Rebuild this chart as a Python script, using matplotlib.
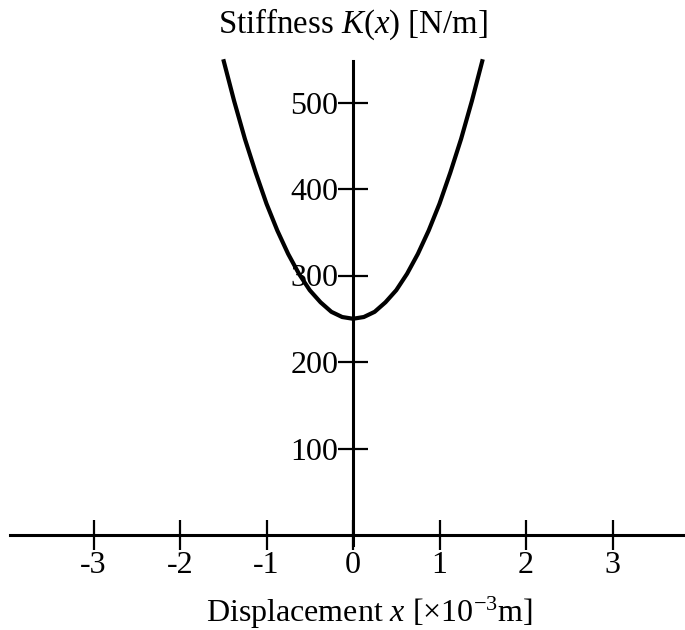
import numpy as np
import matplotlib
matplotlib.use('Agg')
import matplotlib.pyplot as plt

## values (x in 1e-3 m, K in N/m)
disp = [-1.5, -1.375, -1.25, -1.125, -1.0, -0.875, -0.75, -0.625, -0.5, -0.375, -0.25, -0.125,
        0.0, 0.125, 0.25, 0.375, 0.5, 0.625, 0.75, 0.875, 1.0, 1.125, 1.25, 1.375, 1.5]
stiff = [550, 502, 458, 419, 383, 352, 325, 302, 283, 269, 258, 252,
         250, 252, 258, 269, 283, 302, 325, 352, 383, 419, 458, 502, 550]
xticks = [-3, -2, -1, 0, 1, 2, 3]
yticks = [100, 200, 300, 400, 500]

plt.rcParams['font.family'] = 'Liberation Serif'
plt.rcParams['mathtext.fontset'] = 'custom'
plt.rcParams['mathtext.rm'] = 'Liberation Serif'
plt.rcParams['mathtext.it'] = 'Liberation Serif:italic'
plt.rcParams['axes.unicode_minus'] = False

fig = plt.figure(figsize=(6.85, 6.3), dpi=100)
ax = fig.add_axes([0, 0, 1, 1])
ax.patch.set_visible(False)

# pixel mapping: x=0 at px 353, 86.5 px per unit; y=0 at px 535 from top, 0.865 px per N/m
ax.set_xlim(-353 / 86.5, 332 / 86.5)
ax.set_ylim((535 - 630) / 0.865, 535 / 0.865)

ax.plot(disp, stiff, color='black', lw=3.0, solid_capstyle='butt', zorder=3)

for s in ['top', 'right']:
    ax.spines[s].set_visible(False)
ax.spines['left'].set_position(('data', 0))
ax.spines['bottom'].set_position(('data', 0))
ax.spines['left'].set_bounds(-12, 548)
ax.spines['bottom'].set_bounds(-3.97, 3.84)
for s in ['left', 'bottom']:
    ax.spines[s].set_linewidth(2.2)

ax.set_xticks(xticks)
ax.set_xticklabels([str(t) for t in xticks])
ax.set_yticks(yticks)
ax.set_yticklabels([str(t) for t in yticks])
ax.tick_params(axis='both', direction='inout', length=21, width=1.6, labelsize=23)
ax.tick_params(axis='x', pad=1)
ax.tick_params(axis='y', pad=0)

fig.text(352.5 / 685, 1 - 33 / 630, 'Stiffness $K$($x$) [N/m]', ha='center', va='baseline', fontsize=23.7)
fig.text(369 / 685, 1 - 622 / 630, 'Displacement $x$ [$\\times$10$^{-3}$m]', ha='center', va='baseline', fontsize=23)

fig.savefig('out.png', dpi=100)
